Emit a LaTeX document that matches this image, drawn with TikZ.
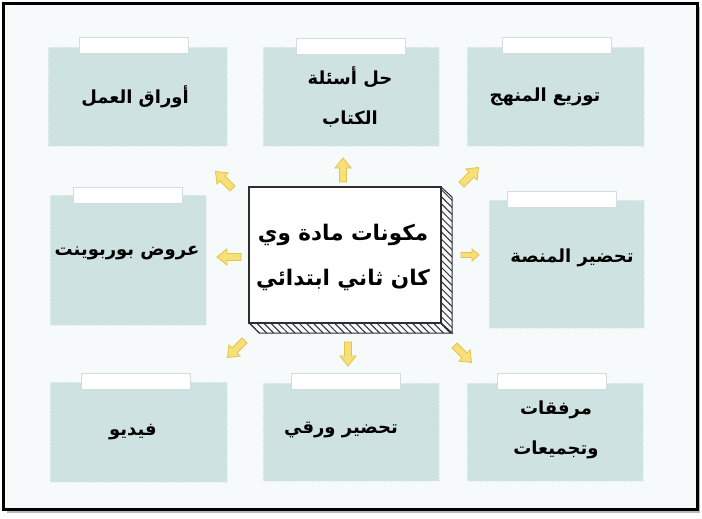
\documentclass[tikz,border=0pt]{standalone}
\usepackage{fontspec}
\usetikzlibrary{patterns.meta}
\TeXXeTstate=1
\newfontfamily\arabicfont[Script=Arabic]{DejaVu Sans}
\newcommand{\artxt}[1]{{\arabicfont\bfseries\beginR #1\endR}}
\definecolor{bgcol}{HTML}{F6FAFB}
\definecolor{boxfill}{HTML}{CFE2E2}
\definecolor{boxedge}{HTML}{E6EFEF}
\definecolor{tabedge}{HTML}{D3DDE1}
\definecolor{arrfill}{HTML}{F7E07A}
\definecolor{arredge}{HTML}{E3C449}
\definecolor{hatchcol}{HTML}{2E2E2E}
\tikzset{
  card/.style={rectangle, fill=boxfill, draw=boxedge, densely dotted, line width=0.8pt, inner sep=0pt},
  cardtab/.style={rectangle, fill=white, draw=tabedge, line width=0.8pt, inner sep=0pt, minimum width=109pt, minimum height=16pt},
  cardtext/.style={font=\fontsize{18}{40}\selectfont, align=center, text=black, inner sep=0pt},
  maintext/.style={font=\fontsize{21.5}{45}\selectfont, align=center, text=black, inner sep=0pt},
  mainbox/.style={rectangle, fill=white, draw=hatchcol, line width=2pt, inner sep=0pt, minimum width=192pt, minimum height=136pt},
  depth/.style={fill=white, draw=hatchcol, line width=1pt, pattern={Lines[angle=-45, distance=5pt, line width=1pt]}, pattern color=hatchcol},
  pics/yarrow/.style={code={
    \draw[fill=arrfill, draw=arredge, line width=0.8pt, line join=miter]
      (-12,-3.5) -- (2,-3.5) -- (2,-8) -- (12,0) -- (2,8) -- (2,3.5) -- (-12,3.5) -- cycle;
  }},
  pics/yarrowsmall/.style={code={
    \draw[fill=arrfill, draw=arredge, line width=0.8pt, line join=miter]
      (-9,-2.5) -- (2,-2.5) -- (2,-6) -- (9,0) -- (2,6) -- (2,2.5) -- (-9,2.5) -- cycle;
  }}
}
\begin{document}
\begin{tikzpicture}[x=1pt, y=-1pt]
\useasboundingbox (0,0) rectangle (702,519);
% page and frame
\fill[white] (0,0) rectangle (702,519);
\fill[gray!55] (7,7) rectangle (700,513);
\draw[fill=bgcol, line width=3pt] (3.5,3.5) rectangle (697,509);

% cards
\node[card, minimum width=179pt, minimum height=99pt] (b1) at (137.5,96.5) {};
\node[card, minimum width=176pt, minimum height=99pt] (b2) at (351,96.5) {};
\node[card, minimum width=177pt, minimum height=99pt] (b3) at (555.5,96.5) {};
\node[card, minimum width=156pt, minimum height=130pt] (b4) at (128,260) {};
\node[card, minimum width=155pt, minimum height=128pt] (b5) at (566.5,264) {};
\node[card, minimum width=177pt, minimum height=100pt] (b6) at (138.5,432) {};
\node[card, minimum width=176pt, minimum height=98pt] (b7) at (351,432) {};
\node[card, minimum width=176pt, minimum height=98pt] (b8) at (555,432) {};

% tabs
\node[cardtab] (tab1) at (133.5,45.5) {};
\node[cardtab] (tab2) at (350.5,46) {};
\node[cardtab] (tab3) at (557,45) {};
\node[cardtab] (tab4) at (128,195) {};
\node[cardtab] (tab5) at (562,199.5) {};
\node[cardtab] (tab6) at (136,381.5) {};
\node[cardtab] (tab7) at (345.5,381.5) {};
\node[cardtab] (tab8) at (552,381.5) {};

% texts
\node[cardtext] (t1) at (135,97) {\artxt{أوراق العمل}};
\node[cardtext] (t2) at (350,97) {\artxt{حل أسئلة}\\\artxt{الكتاب}};
\node[cardtext] (t3) at (545,97) {\artxt{توزيع المنهج}};
\node[cardtext] (t4) at (127,253) {\artxt{عروض بوربوينت}};
\node[cardtext] (t5) at (572,258) {\artxt{تحضير المنصة}};
\node[cardtext] (t6) at (133,432) {\artxt{فيديو}};
\node[cardtext] (t7) at (341,430) {\artxt{تحضير ورقي}};
\node[cardtext] (t8) at (556,430) {\artxt{مرفقات}\\\artxt{وتجميعات}};

% central box with hatched depth
\path[depth] (441,187) -- (452,197) -- (452,333) -- (441,323) -- cycle;
\path[depth] (249,323) -- (259,333) -- (452,333) -- (441,323) -- cycle;
\node[mainbox] (c) at (345,255) {};
\node[maintext] (ct) at (343,257) {\artxt{مكونات مادة وي}\\\artxt{كان ثاني ابتدائي}};

% yellow block arrows
\pic[rotate=135] (a1) at (224,180) {yarrow};
\pic[rotate=90] (a2) at (343,170) {yarrow};
\pic[rotate=45] (a3) at (470,176) {yarrow};
\pic[rotate=180] (a4) at (229,257) {yarrow};
\pic[rotate=0] (a5) at (470,255) {yarrowsmall};
\pic[rotate=225] (a6) at (236,349) {yarrow};
\pic[rotate=270] (a7) at (348,354) {yarrow};
\pic[rotate=315] (a8) at (463,354) {yarrow};
\end{tikzpicture}
\end{document}
